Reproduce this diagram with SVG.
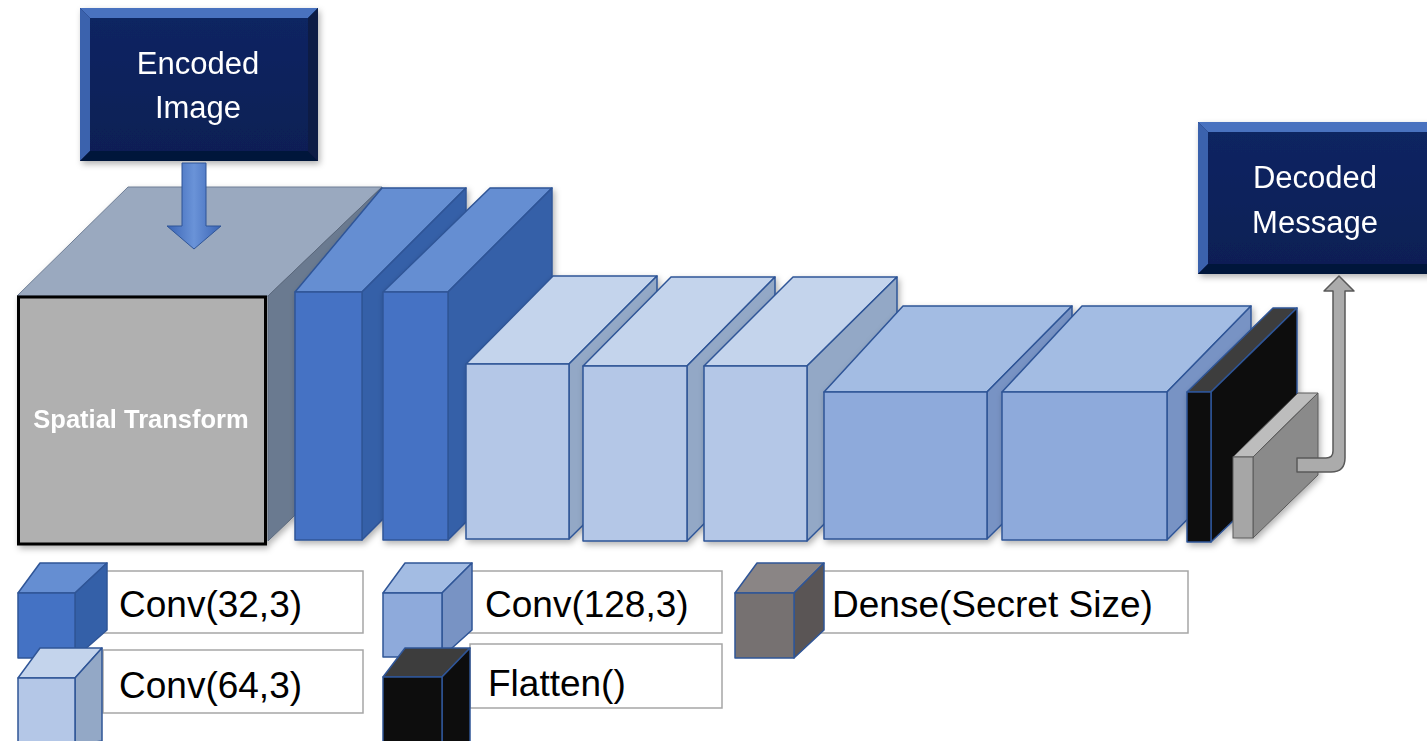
<svg xmlns="http://www.w3.org/2000/svg" width="1427" height="741" viewBox="0 0 1427 741">
<defs>
<filter id="sh" x="-10%" y="-10%" width="130%" height="130%"><feDropShadow dx="2" dy="3" stdDeviation="3" flood-color="#000" flood-opacity="0.3"/></filter>
<linearGradient id="ag" x1="0" y1="0" x2="1" y2="0"><stop offset="0" stop-color="#3a64b4"/><stop offset="0.5" stop-color="#6a93d8"/><stop offset="1" stop-color="#3a64b4"/></linearGradient>
<linearGradient id="navy" x1="0" y1="0" x2="0" y2="1"><stop offset="0" stop-color="#0f2562"/><stop offset="1" stop-color="#0b1f55"/></linearGradient>
</defs>
<style>
.e{stroke:#2f5597;stroke-width:1.5;stroke-linejoin:round}
.c1f{fill:#4472c4}.c1s{fill:#3460a8}.c1t{fill:#658ed2}
.c2f{fill:#b4c7e7}.c2s{fill:#93a8c6}.c2t{fill:#c4d4ec}
.c3f{fill:#8eaadb}.c3s{fill:#7893c4}.c3t{fill:#a3bce3}
.fl{fill:#0d0d0d}.flt{fill:#3d3d3d}
.dnf{fill:#a6a6a6}.dns{fill:#8a8a8a}.dnt{fill:#bdbdbd}
.lf{fill:#767171}.ls{fill:#5a5555}.lt{fill:#8a8585}
.lbl{fill:#fff;stroke:#a6a6a6;stroke-width:1.5}
.lt1{font-family:"Liberation Sans",Arial,sans-serif;font-size:37px;fill:#000}
.ttl{font-family:"Liberation Sans",Arial,sans-serif;font-size:31px;fill:#fff;text-anchor:middle}
</style>

<g id="encoded-image" filter="url(#sh)">
<rect x="80" y="8" width="238" height="153" fill="#0b1f55"/>
<polygon points="80,8 318,8 308,18 90,18" fill="#4a72bf"/>
<polygon points="80,8 90,18 90,151 80,161" fill="#3a62ad"/>
<polygon points="318,8 318,161 308,151 308,18" fill="#081a45"/>
<polygon points="80,161 90,151 308,151 318,161" fill="#06143a"/>
<rect x="90" y="18" width="218" height="133" fill="url(#navy)"/>
<text class="ttl" x="198" y="74">Encoded</text>
<text class="ttl" x="198" y="118">Image</text>
</g>

<g id="decoded-message" filter="url(#sh)">
<rect x="1198" y="122" width="240" height="152" fill="#0b1f55"/>
<polygon points="1198,122 1440,122 1440,132 1208,132" fill="#4a72bf"/>
<polygon points="1198,122 1208,132 1208,264 1198,274" fill="#3a62ad"/>
<polygon points="1198,274 1208,264 1440,264 1440,274" fill="#06143a"/>
<rect x="1208" y="132" width="232" height="132" fill="url(#navy)"/>
<text class="ttl" x="1315" y="188">Decoded</text>
<text class="ttl" x="1315" y="233">Message</text>
</g>

<g id="spatial-transform" filter="url(#sh)">
<polygon points="17,296 268,296 382,187 128,187" fill="#9aa9bf" stroke="#6f7f96" stroke-width="1"/>
<polygon points="268,296 382,187 382,432 268,541" fill="#6b7a90" stroke="#5a687c" stroke-width="1"/>
<rect x="18.5" y="297" width="247" height="247" fill="#b0b0b0" stroke="#000" stroke-width="3"/>
<text x="141" y="428" text-anchor="middle" font-family="Liberation Sans,Arial,sans-serif" font-weight="bold" font-size="25.5" fill="#fff">Spatial Transform</text>
</g>

<g id="conv32-a" filter="url(#sh)">
<polygon class="c1t e" points="295,292 362,292 466,188 382,188"/>
<polygon class="c1s e" points="362,292 466,188 466,436 362,540"/>
<rect class="c1f e" x="295" y="292" width="67" height="248"/>
</g>
<g id="conv32-b" filter="url(#sh)">
<polygon class="c1t e" points="383,292 448,292 552,188 490,188"/>
<polygon class="c1s e" points="448,292 552,188 552,436 448,540"/>
<rect class="c1f e" x="383" y="292" width="65" height="248"/>
</g>

<g id="conv64-a" filter="url(#sh)">
<polygon class="c2t e" points="466,364 569,364 657,276 553,276"/>
<polygon class="c2s e" points="569,364 657,276 657,452 569,539"/>
<rect class="c2f e" x="466" y="364" width="103" height="175"/>
</g>
<g id="conv64-b" filter="url(#sh)">
<polygon class="c2t e" points="583,366 687,366 775,277 671,277"/>
<polygon class="c2s e" points="687,366 775,277 775,452 687,541"/>
<rect class="c2f e" x="583" y="366" width="104" height="175"/>
</g>
<g id="conv64-c" filter="url(#sh)">
<polygon class="c2t e" points="704,366 807,366 897,277 793,277"/>
<polygon class="c2s e" points="807,366 897,277 897,452 807,541"/>
<rect class="c2f e" x="704" y="366" width="103" height="175"/>
</g>

<g id="conv128-a" filter="url(#sh)">
<polygon class="c3t e" points="824,392 987,392 1072,306 903,306"/>
<polygon class="c3s e" points="987,392 1072,306 1072,455 987,539"/>
<rect class="c3f e" x="824" y="392" width="163" height="147"/>
</g>
<g id="conv128-b" filter="url(#sh)">
<polygon class="c3t e" points="1002,392 1167,392 1251,306 1082,306"/>
<polygon class="c3s e" points="1167,392 1251,306 1251,455 1167,540"/>
<rect class="c3f e" x="1002" y="392" width="165" height="148"/>
</g>

<g id="flatten" filter="url(#sh)">
<polygon class="flt e" points="1187,392 1211,392 1297,308 1273,308"/>
<polygon class="fl e" points="1211,392 1297,308 1297,460 1211,542"/>
<rect class="fl e" x="1187" y="392" width="24" height="150"/>
</g>

<g id="dense" filter="url(#sh)">
<polygon class="dnt" stroke="#5a5a5a" stroke-width="1" points="1233,457 1253,457 1318,393 1298,393"/>
<polygon class="dns" stroke="#5a5a5a" stroke-width="1" points="1253,457 1318,393 1318,475 1253,538"/>
<rect class="dnf" stroke="#5a5a5a" stroke-width="1" x="1233" y="457" width="20" height="81"/>
</g>

<g id="connectors">
<path d="M182,163 H206 V226 H221 L194,249 L167,226 H182 Z" fill="url(#ag)" stroke="#2f5597" stroke-width="1"/>
<path d="M1297,458 H1326 Q1333,458 1333,451 V291 H1324 L1339,276 L1354,291 H1345 V458 Q1345,472 1331,472 H1297 Z" fill="#ababab" stroke="#595959" stroke-width="1.5" stroke-linejoin="round"/>
</g>

<g id="legend-conv32">
<rect class="lbl" x="103" y="571" width="260" height="62"/>
<polygon class="c1t e" points="18,593 75,593 107,563 40,563"/>
<polygon class="c1s e" points="75,593 107,563 107,630 75,658"/>
<rect class="c1f e" x="18" y="593" width="57" height="65"/>
<text class="lt1" x="119" y="617">Conv(32,3)</text>
</g>
<g id="legend-conv64">
<rect class="lbl" x="103" y="650" width="260" height="63"/>
<polygon class="c2t e" points="18,678 75,678 102,648 40,648"/>
<polygon class="c2s e" points="75,678 102,648 102,741 75,745"/>
<rect class="c2f e" x="18" y="678" width="57" height="70"/>
<text class="lt1" x="119" y="698">Conv(64,3)</text>
</g>
<g id="legend-conv128">
<rect class="lbl" x="467" y="571" width="255" height="62"/>
<polygon class="c3t e" points="383,593 442,593 472,563 405,563"/>
<polygon class="c3s e" points="442,593 472,563 472,630 442,657"/>
<rect class="c3f e" x="383" y="593" width="59" height="64"/>
<text class="lt1" x="485" y="617">Conv(128,3)</text>
</g>
<g id="legend-flatten">
<rect class="lbl" x="470" y="644" width="252" height="64"/>
<polygon class="flt e" points="383,677 442,677 470,648 405,648"/>
<polygon class="fl e" points="442,677 470,648 470,745 442,745"/>
<rect class="fl e" x="383" y="677" width="59" height="70"/>
<text class="lt1" x="488" y="696">Flatten()</text>
</g>
<g id="legend-dense">
<rect class="lbl" x="817" y="571" width="371" height="62"/>
<polygon class="lt e" points="735,593 794,593 824,563 757,563"/>
<polygon class="ls e" points="794,593 824,563 824,630 794,658"/>
<rect class="lf e" x="735" y="593" width="59" height="65"/>
<text class="lt1" x="832" y="617">Dense(Secret Size)</text>
</g>
</svg>
